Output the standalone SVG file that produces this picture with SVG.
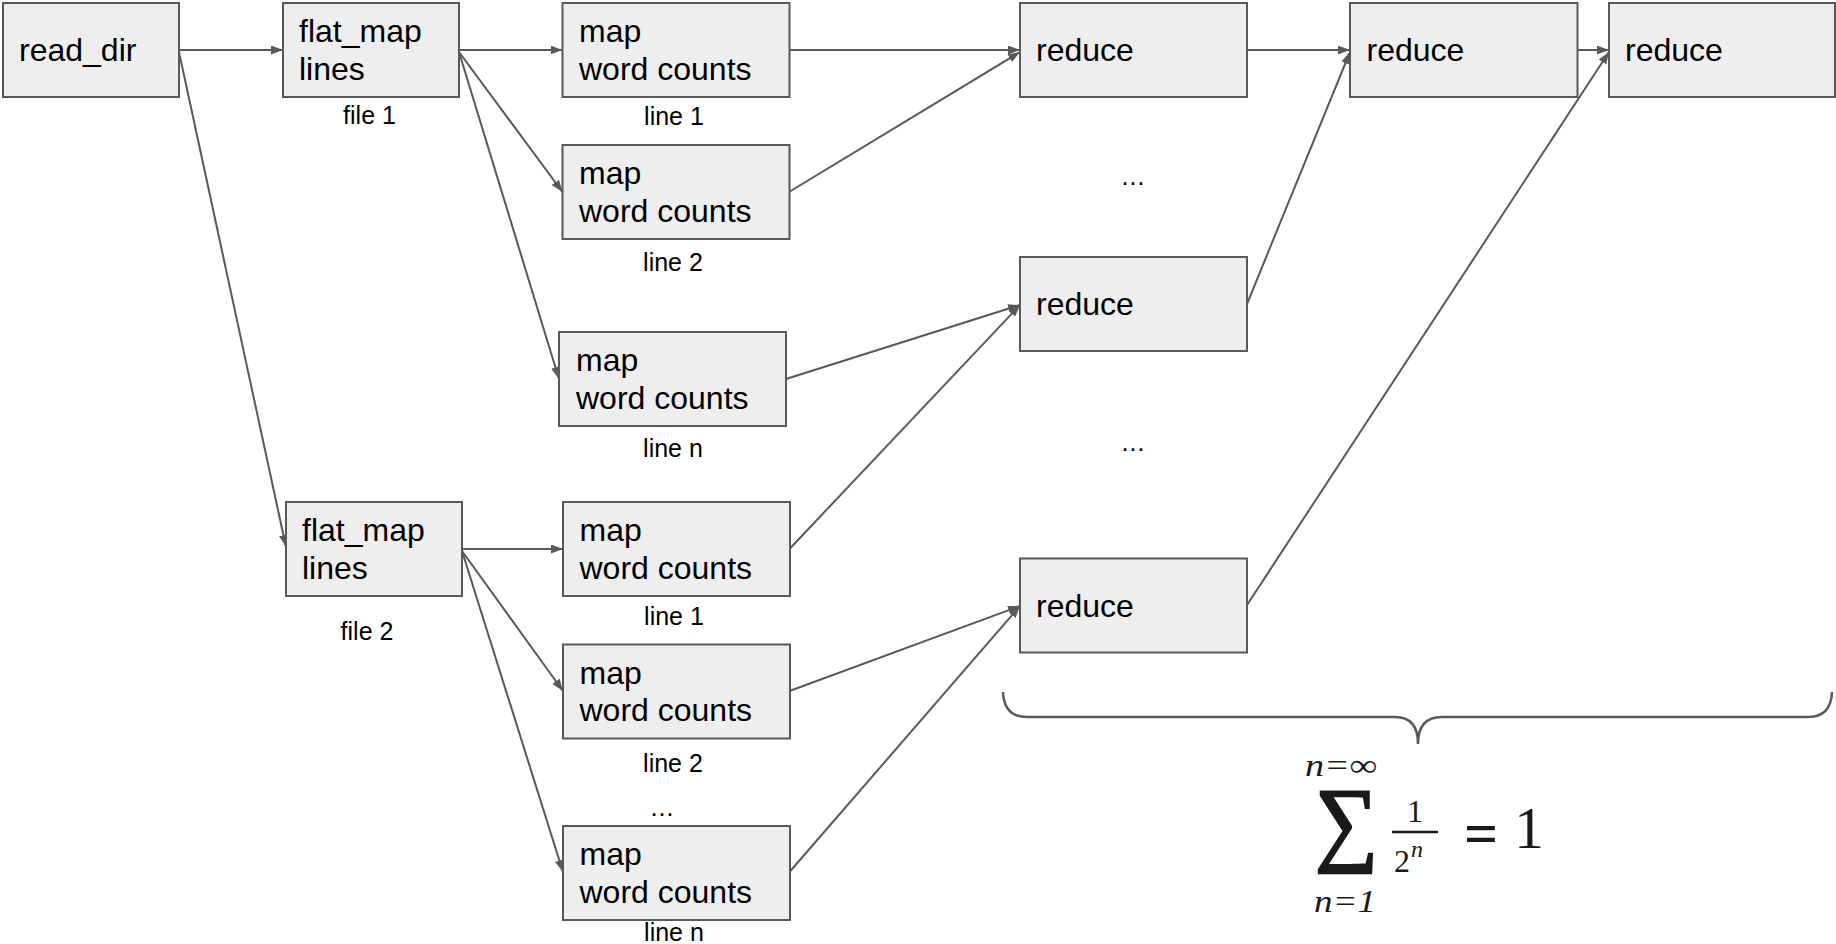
<svg xmlns="http://www.w3.org/2000/svg" width="1836" height="944" viewBox="0 0 1836 944">
<style>
.box{fill:#eeeeee;stroke:#595959;stroke-width:2}
.t{font-family:"Liberation Sans",Arial,sans-serif;font-size:32px;fill:#000}
.c{font-family:"Liberation Sans",Arial,sans-serif;font-size:25px;fill:#000;text-anchor:middle}
.e{stroke:#595959;stroke-width:2;fill:none;marker-end:url(#ah)}
.m{font-family:"Liberation Serif","Times New Roman",serif;fill:#1a1a1a}
</style>
<defs>
<marker id="ah" markerUnits="userSpaceOnUse" markerWidth="13" markerHeight="10" refX="12" refY="4.5" orient="auto">
<path d="M0,0 L12,4.5 L0,9 z" fill="#595959"/>
</marker>
</defs>
<rect width="1836" height="944" fill="#ffffff"/>

<g id="connectors">
<line class="e" x1="179" y1="50" x2="283" y2="50"/>
<line class="e" x1="179" y1="52" x2="286" y2="547"/>
<line class="e" x1="459" y1="50" x2="562.5" y2="50"/>
<line class="e" x1="459" y1="52" x2="562.5" y2="192"/>
<line class="e" x1="459" y1="52" x2="559" y2="379"/>
<line class="e" x1="789" y1="50" x2="1020" y2="50"/>
<line class="e" x1="789" y1="192" x2="1020" y2="52"/>
<line class="e" x1="786" y1="379" x2="1020" y2="305"/>
<line class="e" x1="462" y1="549" x2="563" y2="549"/>
<line class="e" x1="462" y1="551" x2="563" y2="691"/>
<line class="e" x1="462" y1="551" x2="563" y2="872"/>
<line class="e" x1="789.5" y1="549" x2="1020" y2="305"/>
<line class="e" x1="789.5" y1="691" x2="1020" y2="606"/>
<line class="e" x1="789.5" y1="872" x2="1020" y2="606"/>
<line class="e" x1="1247" y1="50" x2="1350" y2="50"/>
<line class="e" x1="1247" y1="304" x2="1350" y2="52"/>
<line class="e" x1="1577.5" y1="50" x2="1609" y2="50"/>
<line class="e" x1="1247" y1="605" x2="1609" y2="52"/>
</g>

<g id="read_dir"><rect class="box" x="3" y="3" width="176" height="94"/><text class="t" x="19" y="61">read_dir</text></g>

<g id="flat_map_1"><rect class="box" x="283" y="3" width="176" height="94"/><text class="t" x="299" y="42">flat_map</text><text class="t" x="299" y="79.5">lines</text></g>
<g id="label_file_1"><text class="c" x="369.5" y="124">file 1</text></g>

<g id="map_f1_line1"><rect class="box" x="562.5" y="3" width="227" height="94"/><text class="t" x="579" y="42">map</text><text class="t" x="579" y="79.5">word counts</text></g>
<g id="label_f1_line1"><text class="c" x="674" y="125">line 1</text></g>

<g id="map_f1_line2"><rect class="box" x="562.5" y="145" width="227" height="94"/><text class="t" x="579" y="184">map</text><text class="t" x="579" y="221.5">word counts</text></g>
<g id="label_f1_line2"><text class="c" x="673" y="271">line 2</text></g>

<g id="map_f1_linen"><rect class="box" x="559" y="332" width="227" height="94"/><text class="t" x="576" y="371">map</text><text class="t" x="576" y="408.5">word counts</text></g>
<g id="label_f1_linen"><text class="c" x="673" y="457">line n</text></g>

<g id="flat_map_2"><rect class="box" x="286" y="502" width="176" height="94"/><text class="t" x="302" y="541">flat_map</text><text class="t" x="302" y="578.5">lines</text></g>
<g id="label_file_2"><text class="c" x="367" y="640">file 2</text></g>

<g id="map_f2_line1"><rect class="box" x="563" y="502" width="227" height="94"/><text class="t" x="579.5" y="541">map</text><text class="t" x="579.5" y="578.5">word counts</text></g>
<g id="label_f2_line1"><text class="c" x="674" y="625">line 1</text></g>

<g id="map_f2_line2"><rect class="box" x="563" y="644.5" width="227" height="94"/><text class="t" x="579.5" y="683.5">map</text><text class="t" x="579.5" y="721">word counts</text></g>
<g id="label_f2_line2"><text class="c" x="673" y="771.5">line 2</text></g>
<g id="ellipsis_f2"><text class="c" x="662" y="816">…</text></g>

<g id="map_f2_linen"><rect class="box" x="563" y="826" width="227" height="94"/><text class="t" x="579.5" y="865">map</text><text class="t" x="579.5" y="902.5">word counts</text></g>
<g id="label_f2_linen"><text class="c" x="674" y="941">line n</text></g>

<g id="reduce_a"><rect class="box" x="1020" y="3" width="227" height="94"/><text class="t" x="1036" y="61">reduce</text></g>
<g id="ellipsis_r1"><text class="c" x="1133" y="185">…</text></g>
<g id="reduce_b"><rect class="box" x="1020" y="257" width="227" height="94"/><text class="t" x="1036" y="315">reduce</text></g>
<g id="ellipsis_r2"><text class="c" x="1133" y="451">…</text></g>
<g id="reduce_c"><rect class="box" x="1020" y="558.5" width="227" height="94"/><text class="t" x="1036" y="616.5">reduce</text></g>
<g id="reduce_d"><rect class="box" x="1350" y="3" width="227.5" height="94"/><text class="t" x="1366.5" y="61">reduce</text></g>
<g id="reduce_e"><rect class="box" x="1609" y="3" width="226" height="94"/><text class="t" x="1625" y="61">reduce</text></g>

<g id="brace"><path d="M1003,692 Q1004,717 1027,717 L1395,717 Q1418,717 1418,744 Q1418,717 1442,717 L1808,717 Q1831,717 1832,692" fill="none" stroke="#595959" stroke-width="2.5"/></g>

<g id="formula">
<text class="m" x="1305" y="776" font-size="32" font-style="italic" textLength="72" lengthAdjust="spacingAndGlyphs">n=∞</text>
<text class="m" x="1315" y="853" font-size="94" stroke="#1a1a1a" stroke-width="2.5" textLength="63" lengthAdjust="spacingAndGlyphs">∑</text>
<text class="m" x="1415" y="822" font-size="32" text-anchor="middle">1</text>
<line x1="1392" y1="832" x2="1438" y2="832" stroke="#1a1a1a" stroke-width="2.5"/>
<text class="m" x="1394" y="872" font-size="32">2</text>
<text class="m" x="1411" y="857" font-size="24" font-style="italic">n</text>
<text class="m" x="1481" y="853" font-size="60" font-weight="bold" text-anchor="middle">=</text>
<text class="m" x="1529" y="848" font-size="60" text-anchor="middle">1</text>
<text class="m" x="1314" y="912" font-size="32" font-style="italic" textLength="62" lengthAdjust="spacingAndGlyphs">n=1</text>
</g>
</svg>
